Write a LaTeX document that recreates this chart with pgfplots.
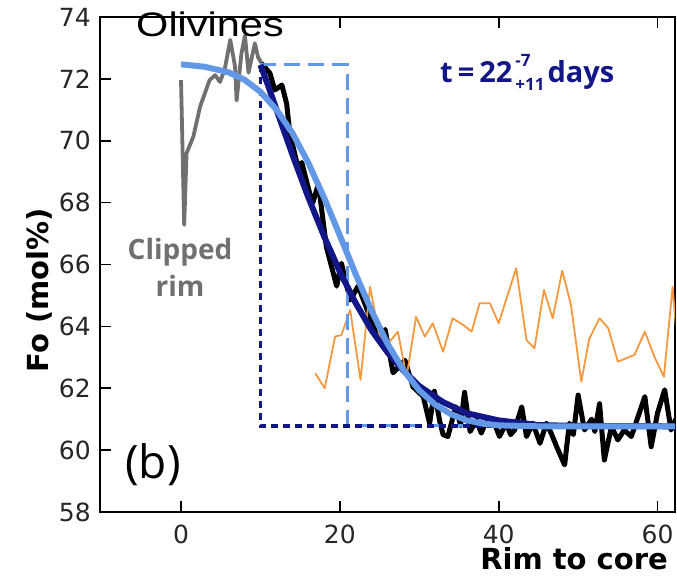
\documentclass[border=0pt]{standalone}
\usepackage{pgfplots}
\pgfplotsset{compat=1.18}
\usepackage{fontspec}
\setmainfont{DejaVu Sans}
\newfontfamily\osans{Open Sans}
\newfontfamily\arialx{Liberation Sans}[FakeStretch=1.22]
\definecolor{navy}{RGB}{18,22,135}
\definecolor{lblue}{RGB}{98,152,230}
\definecolor{dgray}{RGB}{112,112,112}
\definecolor{orng}{RGB}{246,152,62}
\begin{document}
\begin{tikzpicture}[x=1bp,y=1bp]
\useasboundingbox (0,0) rectangle (677,580);
\begin{axis}[
  at={(100bp,68bp)}, anchor=south west, scale only axis,
  width=575bp, height=495bp,
  xmin=-10.2, xmax=62.2, ymin=58, ymax=74,
  xtick={0,20,40,60}, ytick={58,60,...,74},
  tick align=inside, xtick pos=both, ytick pos=left, xticklabel pos=lower,
  major tick length=11bp,
  every tick/.style={black, line width=1.6bp},
  axis line style={line width=2bp, black},
  tick label style={font=\fontsize{25bp}{25bp}\selectfont, text=black!85},
  /pgf/number format/assume math mode=true,
  yticklabel style={inner sep=0pt, xshift=-9bp},
  xticklabel style={inner sep=0pt, yshift=-13bp},
]
% clipped rim (gray)
\addplot[dgray, line width=3.8bp, line join=round] coordinates {
(0,71.96)(0.4,67.28)(0.7,69.6)(1.55,70.13)(2.4,71.1)(3.6,71.96)(4.3,72.12)(4.9,71.9)(5.5,72.3)(6.2,73.26)(6.8,72.4)(7.0,71.3)(7.6,72.8)(8.05,73.4)(8.5,72.2)(9.3,73.15)(9.7,72.7)(10.15,72.5)};
% measured profile (black)
\addplot[black, line width=5bp, line join=round] coordinates {
(10.15,72.5)(11.2,72.18)(11.8,71.64)(12.7,71.8)(13.3,71.2)(13.7,70.25)(14.3,69.6)(14.8,69.05)(15.2,69.3)(16.2,68.3)(16.6,68.0)(17.3,68.6)(18.3,66.57)(19.6,65.3)(20.2,66.04)(21.3,64.85)(22.3,65.3)(23.8,64.3)(25,63.67)(25.7,63.9)(26.7,62.5)(28.2,62.9)(29.2,62.05)(30.5,61.73)(31.3,60.87)(31.9,61.9)(32.6,60.9)(33.0,60.5)(33.6,60.44)(34.6,61.4)(35.2,60.8)(35.7,61.87)(36.4,60.6)(37.2,60.97)(37.8,60.55)(38.4,60.9)(39.3,60.97)(40.1,60.44)(40.95,60.87)(41.5,60.5)(42,60.65)(42.9,61.4)(43.5,60.44)(44.3,60.87)(45.2,60.22)(46,60.87)(46.6,60.55)(47.3,60.11)(48.3,59.52)(48.9,60.87)(49.4,60.5)(50,61.78)(50.8,60.65)(51.7,61.0)(52.1,60.6)(52.7,61.5)(53.3,59.68)(54.2,60.76)(55,60.33)(55.8,60.65)(56.7,60.44)(57.4,60.97)(58.4,61.73)(59.2,60.11)(60,61.2)(60.9,61.95)(61.7,60.65)(62.3,61.0)};
% orange profile
\addplot[orng, line width=1.8bp, line join=round] coordinates {
(16.9,62.48)(18.1,62.0)(19.4,63.67)(20.2,63.72)(21.3,64.53)(22.6,62.27)(23.8,65.28)(25,63.67)(26.1,63.45)(27.3,63.83)(28.4,62.37)(29.6,64.31)(30.7,63.67)(31.7,64.1)(33,63.18)(34.2,64.26)(35.5,64.05)(36.6,63.83)(37.6,64.75)(38.9,64.75)(40,64.1)(42.2,65.88)(43.5,63.56)(44.5,63.29)(45.7,65.18)(46.8,64.26)(48,65.8)(49.1,64.69)(50.4,62.21)(51.4,63.6)(52.7,64.26)(53.8,63.94)(55,62.86)(57.1,63.08)(58.4,63.83)(59.6,63.02)(60.8,62.37)(61.9,65.28)(62.3,64.0)};
% initial conditions (dashed)
\addplot[lblue, line width=3bp, dash pattern=on 16bp off 8bp] coordinates {
(10,72.45)(21,72.45)(21,60.78)(62.5,60.78)};
\addplot[navy, line width=3.5bp, dash pattern=on 7bp off 5bp] coordinates {
(10,72.45)(10,60.78)(62.5,60.78)};
% model curves
\addplot[navy, line width=6bp, line join=round] coordinates {
(10,72.45)(11,71.76)(12,71.02)(14,69.57)(16,68.19)(18,66.92)(20,65.76)(22,64.75)(24,63.87)(26,63.16)(28,62.57)(30,62.07)(33,61.55)(36,61.19)(40,60.96)(45,60.81)(50,60.78)(62.5,60.77)};
\addplot[lblue, line width=6bp, line join=round] coordinates {
(0,72.47)(3,72.39)(6,72.21)(8,71.97)(10,71.58)(12,71.01)(14,70.26)(16,69.30)(18,68.17)(20,66.94)(22,65.68)(24,64.50)(26,63.44)(28,62.59)(30,61.93)(32,61.47)(34,61.16)(36,60.96)(38,60.86)(40,60.80)(45,60.77)(62.5,60.77)};
\end{axis}
% texts
\node[anchor=base, inner sep=0pt] at (210,543) {\arialx\fontsize{34bp}{34bp}\selectfont Olivines};
\node[anchor=base west, inner sep=0pt, text=navy] at (440,497) {\osans\bfseries\fontsize{29bp}{30bp}\selectfont t\kern5bp=\kern5bp22\kern3bp\rlap{\raisebox{16bp}{\fontsize{17bp}{17bp}\selectfont -7}}\raisebox{-8bp}{\fontsize{17bp}{17bp}\selectfont +11}\kern3bp days};
\node[anchor=base, inner sep=0pt, text=dgray] at (180,320) {\osans\bfseries\fontsize{28bp}{28bp}\selectfont Clipped};
\node[anchor=base, inner sep=0pt, text=dgray] at (180,283) {\osans\bfseries\fontsize{28bp}{28bp}\selectfont rim};
\node[anchor=center, inner sep=0pt] at (153,115) {\osans\fontsize{46bp}{46bp}\selectfont (b)};
\node[anchor=base, rotate=90, inner sep=0pt] at (48,290) {\bfseries\fontsize{29bp}{29bp}\selectfont Fo (mol\%)};
\node[anchor=base east, inner sep=0pt] at (668,10) {\bfseries\fontsize{29bp}{29bp}\selectfont Rim to core};
\end{tikzpicture}
\end{document}
